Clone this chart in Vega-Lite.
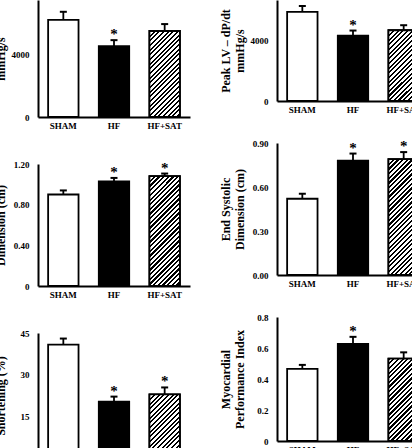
{
"$schema": "https://vega.github.io/schema/vega-lite/v6.json",
"padding": {"left": -20, "top": 0, "right": 0, "bottom": 0},
"background": "white",
"config": {
"view": {"stroke": null},
"font": "Liberation Serif",
"axis": {"labelFont": "Liberation Serif", "labelFontWeight": "bold", "labelColor": "#000", "titleFont": "Liberation Serif", "titleFontWeight": "bold", "titleColor": "#000", "domainColor": "#000", "domainWidth": 2, "ticks": false, "grid": false},
"axisX": {"labelFontSize": 9, "labelPadding": 4, "labelAngle": 0},
"axisY": {"labelFontSize": 9, "labelPadding": 9, "minExtent": 25, "maxExtent": 25, "titlePadding": 6, "titleFontSize": 12, "titleLineHeight": 13.5}
},
"datasets": {
"p1": [{"g":"SHAM","m":6170,"hi":6680,"star":false},{"g":"HF","m":4500,"hi":4880,"star":true},{"g":"HF+SAT","m":5460,"hi":5900,"star":false}],
"p2": [{"g":"SHAM","m":5840,"hi":6230,"star":false},{"g":"HF","m":4290,"hi":4620,"star":true},{"g":"HF+SAT","m":4640,"hi":4970,"star":false}],
"p3": [{"g":"SHAM","m":0.90,"hi":0.94,"star":false},{"g":"HF","m":1.03,"hi":1.063,"star":true},{"g":"HF+SAT","m":1.08,"hi":1.106,"star":true}],
"p4": [{"g":"SHAM","m":0.52,"hi":0.554,"star":false},{"g":"HF","m":0.78,"hi":0.828,"star":true},{"g":"HF+SAT","m":0.79,"hi":0.838,"star":true}],
"p5": [{"g":"SHAM","m":40.8,"hi":43.0,"star":false},{"g":"HF","m":20.3,"hi":22.1,"star":true},{"g":"HF+SAT","m":22.9,"hi":25.4,"star":true}],
"p6": [{"g":"SHAM","m":0.465,"hi":0.491,"star":false},{"g":"HF","m":0.627,"hi":0.672,"star":true},{"g":"HF+SAT","m":0.532,"hi":0.572,"star":false}]
},
"spacing": 29,
"hconcat": [
{"spacing": 47, "bounds": "flush", "vconcat": [
{"width": 152, "height": 117, "data": {"name": "p1"},
"encoding": {"x": {"field":"g","type":"nominal","title":null,"scale":{"domain":["SHAM","HF","HF+SAT"],"paddingInner":0.4,"paddingOuter":0.2}},
"y": {"field":"m","type":"quantitative","scale":{"domain":[0,7429],"nice":false},"axis":{"values":[0,4000],"format":"d","title":["Peak LV + dP/dt","mmHg/s"]}}},
"layer": [
{"mark":{"type":"bar","stroke":"#000","strokeWidth":1.8},"encoding":{"fill":{"field":"g","type":"nominal","scale":{"domain":["SHAM","HF","HF+SAT"],"range":["#ffffff","#000000","#ffffff"]},"legend":null}}},
{"transform":[{"filter":"datum.g === 'HF+SAT'"}],"mark":{"type":"bar","stroke":"#000","strokeWidth":1.8,"fill":{"gradient":"linear","x1":0,"y1":0,"x2":0.5456,"y2":1.5433,"stops":[{"offset":0,"color":"#000"},{"offset":0.0141,"color":"#000"},{"offset":0.0141,"color":"#fff"},{"offset":0.0313,"color":"#fff"},{"offset":0.0313,"color":"#000"},{"offset":0.0453,"color":"#000"},{"offset":0.0453,"color":"#fff"},{"offset":0.0625,"color":"#fff"},{"offset":0.0625,"color":"#000"},{"offset":0.0766,"color":"#000"},{"offset":0.0766,"color":"#fff"},{"offset":0.0938,"color":"#fff"},{"offset":0.0938,"color":"#000"},{"offset":0.1078,"color":"#000"},{"offset":0.1078,"color":"#fff"},{"offset":0.125,"color":"#fff"},{"offset":0.125,"color":"#000"},{"offset":0.1391,"color":"#000"},{"offset":0.1391,"color":"#fff"},{"offset":0.1563,"color":"#fff"},{"offset":0.1563,"color":"#000"},{"offset":0.1703,"color":"#000"},{"offset":0.1703,"color":"#fff"},{"offset":0.1875,"color":"#fff"},{"offset":0.1875,"color":"#000"},{"offset":0.2016,"color":"#000"},{"offset":0.2016,"color":"#fff"},{"offset":0.2188,"color":"#fff"},{"offset":0.2188,"color":"#000"},{"offset":0.2328,"color":"#000"},{"offset":0.2328,"color":"#fff"},{"offset":0.25,"color":"#fff"},{"offset":0.25,"color":"#000"},{"offset":0.2641,"color":"#000"},{"offset":0.2641,"color":"#fff"},{"offset":0.2813,"color":"#fff"},{"offset":0.2813,"color":"#000"},{"offset":0.2953,"color":"#000"},{"offset":0.2953,"color":"#fff"},{"offset":0.3125,"color":"#fff"},{"offset":0.3125,"color":"#000"},{"offset":0.3266,"color":"#000"},{"offset":0.3266,"color":"#fff"},{"offset":0.3438,"color":"#fff"},{"offset":0.3438,"color":"#000"},{"offset":0.3578,"color":"#000"},{"offset":0.3578,"color":"#fff"},{"offset":0.375,"color":"#fff"},{"offset":0.375,"color":"#000"},{"offset":0.3891,"color":"#000"},{"offset":0.3891,"color":"#fff"},{"offset":0.4063,"color":"#fff"},{"offset":0.4063,"color":"#000"},{"offset":0.4203,"color":"#000"},{"offset":0.4203,"color":"#fff"},{"offset":0.4375,"color":"#fff"},{"offset":0.4375,"color":"#000"},{"offset":0.4516,"color":"#000"},{"offset":0.4516,"color":"#fff"},{"offset":0.4688,"color":"#fff"},{"offset":0.4688,"color":"#000"},{"offset":0.4828,"color":"#000"},{"offset":0.4828,"color":"#fff"},{"offset":0.5,"color":"#fff"},{"offset":0.5,"color":"#000"},{"offset":0.5141,"color":"#000"},{"offset":0.5141,"color":"#fff"},{"offset":0.5313,"color":"#fff"},{"offset":0.5313,"color":"#000"},{"offset":0.5453,"color":"#000"},{"offset":0.5453,"color":"#fff"},{"offset":0.5625,"color":"#fff"},{"offset":0.5625,"color":"#000"},{"offset":0.5766,"color":"#000"},{"offset":0.5766,"color":"#fff"},{"offset":0.5938,"color":"#fff"},{"offset":0.5938,"color":"#000"},{"offset":0.6078,"color":"#000"},{"offset":0.6078,"color":"#fff"},{"offset":0.625,"color":"#fff"},{"offset":0.625,"color":"#000"},{"offset":0.6391,"color":"#000"},{"offset":0.6391,"color":"#fff"},{"offset":0.6563,"color":"#fff"},{"offset":0.6563,"color":"#000"},{"offset":0.6703,"color":"#000"},{"offset":0.6703,"color":"#fff"},{"offset":0.6875,"color":"#fff"},{"offset":0.6875,"color":"#000"},{"offset":0.7016,"color":"#000"},{"offset":0.7016,"color":"#fff"},{"offset":0.7188,"color":"#fff"},{"offset":0.7188,"color":"#000"},{"offset":0.7328,"color":"#000"},{"offset":0.7328,"color":"#fff"},{"offset":0.75,"color":"#fff"},{"offset":0.75,"color":"#000"},{"offset":0.7641,"color":"#000"},{"offset":0.7641,"color":"#fff"},{"offset":0.7813,"color":"#fff"},{"offset":0.7813,"color":"#000"},{"offset":0.7953,"color":"#000"},{"offset":0.7953,"color":"#fff"},{"offset":0.8125,"color":"#fff"},{"offset":0.8125,"color":"#000"},{"offset":0.8266,"color":"#000"},{"offset":0.8266,"color":"#fff"},{"offset":0.8438,"color":"#fff"},{"offset":0.8438,"color":"#000"},{"offset":0.8578,"color":"#000"},{"offset":0.8578,"color":"#fff"},{"offset":0.875,"color":"#fff"},{"offset":0.875,"color":"#000"},{"offset":0.8891,"color":"#000"},{"offset":0.8891,"color":"#fff"},{"offset":0.9063,"color":"#fff"},{"offset":0.9063,"color":"#000"},{"offset":0.9203,"color":"#000"},{"offset":0.9203,"color":"#fff"},{"offset":0.9375,"color":"#fff"},{"offset":0.9375,"color":"#000"},{"offset":0.9516,"color":"#000"},{"offset":0.9516,"color":"#fff"},{"offset":0.9688,"color":"#fff"},{"offset":0.9688,"color":"#000"},{"offset":0.9828,"color":"#000"},{"offset":0.9828,"color":"#fff"},{"offset":1,"color":"#fff"}]}}},
{"mark":{"type":"rule","strokeWidth":1.8,"color":"#000"},"encoding":{"y2":{"field":"hi"}}},
{"mark":{"type":"tick","size":7,"thickness":2,"color":"#000","opacity":1},"encoding":{"y":{"field":"hi","type":"quantitative"}}},
{"transform":[{"filter":"datum.star"}],"mark":{"type":"text","text":"*","fontSize":15,"fontWeight":"bold","font":"Liberation Serif","baseline":"alphabetic","dy":-1,"fill":"#000"},"encoding":{"y":{"field":"hi","type":"quantitative"}}}
]},
{"width": 152, "height": 122, "data": {"name": "p3"},
"encoding": {"x": {"field":"g","type":"nominal","title":null,"scale":{"domain":["SHAM","HF","HF+SAT"],"paddingInner":0.4,"paddingOuter":0.2}},
"y": {"field":"m","type":"quantitative","scale":{"domain":[0,1.2],"nice":false},"axis":{"values":[0,0.4,0.8,1.2],"labelExpr":"datum.value === 0 ? '0' : format(datum.value, '.2f')","title":["End Diastolic","Dimension (cm)"]}}},
"layer": [
{"mark":{"type":"bar","stroke":"#000","strokeWidth":1.8},"encoding":{"fill":{"field":"g","type":"nominal","scale":{"domain":["SHAM","HF","HF+SAT"],"range":["#ffffff","#000000","#ffffff"]},"legend":null}}},
{"transform":[{"filter":"datum.g === 'HF+SAT'"}],"mark":{"type":"bar","stroke":"#000","strokeWidth":1.8,"fill":{"gradient":"linear","x1":0,"y1":0,"x2":0.3497,"y2":1.2629,"stops":[{"offset":0,"color":"#000"},{"offset":0.0141,"color":"#000"},{"offset":0.0141,"color":"#fff"},{"offset":0.0313,"color":"#fff"},{"offset":0.0313,"color":"#000"},{"offset":0.0453,"color":"#000"},{"offset":0.0453,"color":"#fff"},{"offset":0.0625,"color":"#fff"},{"offset":0.0625,"color":"#000"},{"offset":0.0766,"color":"#000"},{"offset":0.0766,"color":"#fff"},{"offset":0.0938,"color":"#fff"},{"offset":0.0938,"color":"#000"},{"offset":0.1078,"color":"#000"},{"offset":0.1078,"color":"#fff"},{"offset":0.125,"color":"#fff"},{"offset":0.125,"color":"#000"},{"offset":0.1391,"color":"#000"},{"offset":0.1391,"color":"#fff"},{"offset":0.1563,"color":"#fff"},{"offset":0.1563,"color":"#000"},{"offset":0.1703,"color":"#000"},{"offset":0.1703,"color":"#fff"},{"offset":0.1875,"color":"#fff"},{"offset":0.1875,"color":"#000"},{"offset":0.2016,"color":"#000"},{"offset":0.2016,"color":"#fff"},{"offset":0.2188,"color":"#fff"},{"offset":0.2188,"color":"#000"},{"offset":0.2328,"color":"#000"},{"offset":0.2328,"color":"#fff"},{"offset":0.25,"color":"#fff"},{"offset":0.25,"color":"#000"},{"offset":0.2641,"color":"#000"},{"offset":0.2641,"color":"#fff"},{"offset":0.2813,"color":"#fff"},{"offset":0.2813,"color":"#000"},{"offset":0.2953,"color":"#000"},{"offset":0.2953,"color":"#fff"},{"offset":0.3125,"color":"#fff"},{"offset":0.3125,"color":"#000"},{"offset":0.3266,"color":"#000"},{"offset":0.3266,"color":"#fff"},{"offset":0.3438,"color":"#fff"},{"offset":0.3438,"color":"#000"},{"offset":0.3578,"color":"#000"},{"offset":0.3578,"color":"#fff"},{"offset":0.375,"color":"#fff"},{"offset":0.375,"color":"#000"},{"offset":0.3891,"color":"#000"},{"offset":0.3891,"color":"#fff"},{"offset":0.4063,"color":"#fff"},{"offset":0.4063,"color":"#000"},{"offset":0.4203,"color":"#000"},{"offset":0.4203,"color":"#fff"},{"offset":0.4375,"color":"#fff"},{"offset":0.4375,"color":"#000"},{"offset":0.4516,"color":"#000"},{"offset":0.4516,"color":"#fff"},{"offset":0.4688,"color":"#fff"},{"offset":0.4688,"color":"#000"},{"offset":0.4828,"color":"#000"},{"offset":0.4828,"color":"#fff"},{"offset":0.5,"color":"#fff"},{"offset":0.5,"color":"#000"},{"offset":0.5141,"color":"#000"},{"offset":0.5141,"color":"#fff"},{"offset":0.5313,"color":"#fff"},{"offset":0.5313,"color":"#000"},{"offset":0.5453,"color":"#000"},{"offset":0.5453,"color":"#fff"},{"offset":0.5625,"color":"#fff"},{"offset":0.5625,"color":"#000"},{"offset":0.5766,"color":"#000"},{"offset":0.5766,"color":"#fff"},{"offset":0.5938,"color":"#fff"},{"offset":0.5938,"color":"#000"},{"offset":0.6078,"color":"#000"},{"offset":0.6078,"color":"#fff"},{"offset":0.625,"color":"#fff"},{"offset":0.625,"color":"#000"},{"offset":0.6391,"color":"#000"},{"offset":0.6391,"color":"#fff"},{"offset":0.6563,"color":"#fff"},{"offset":0.6563,"color":"#000"},{"offset":0.6703,"color":"#000"},{"offset":0.6703,"color":"#fff"},{"offset":0.6875,"color":"#fff"},{"offset":0.6875,"color":"#000"},{"offset":0.7016,"color":"#000"},{"offset":0.7016,"color":"#fff"},{"offset":0.7188,"color":"#fff"},{"offset":0.7188,"color":"#000"},{"offset":0.7328,"color":"#000"},{"offset":0.7328,"color":"#fff"},{"offset":0.75,"color":"#fff"},{"offset":0.75,"color":"#000"},{"offset":0.7641,"color":"#000"},{"offset":0.7641,"color":"#fff"},{"offset":0.7813,"color":"#fff"},{"offset":0.7813,"color":"#000"},{"offset":0.7953,"color":"#000"},{"offset":0.7953,"color":"#fff"},{"offset":0.8125,"color":"#fff"},{"offset":0.8125,"color":"#000"},{"offset":0.8266,"color":"#000"},{"offset":0.8266,"color":"#fff"},{"offset":0.8438,"color":"#fff"},{"offset":0.8438,"color":"#000"},{"offset":0.8578,"color":"#000"},{"offset":0.8578,"color":"#fff"},{"offset":0.875,"color":"#fff"},{"offset":0.875,"color":"#000"},{"offset":0.8891,"color":"#000"},{"offset":0.8891,"color":"#fff"},{"offset":0.9063,"color":"#fff"},{"offset":0.9063,"color":"#000"},{"offset":0.9203,"color":"#000"},{"offset":0.9203,"color":"#fff"},{"offset":0.9375,"color":"#fff"},{"offset":0.9375,"color":"#000"},{"offset":0.9516,"color":"#000"},{"offset":0.9516,"color":"#fff"},{"offset":0.9688,"color":"#fff"},{"offset":0.9688,"color":"#000"},{"offset":0.9828,"color":"#000"},{"offset":0.9828,"color":"#fff"},{"offset":1,"color":"#fff"}]}}},
{"mark":{"type":"rule","strokeWidth":1.8,"color":"#000"},"encoding":{"y2":{"field":"hi"}}},
{"mark":{"type":"tick","size":7,"thickness":2,"color":"#000","opacity":1},"encoding":{"y":{"field":"hi","type":"quantitative"}}},
{"transform":[{"filter":"datum.star"}],"mark":{"type":"text","text":"*","fontSize":15,"fontWeight":"bold","font":"Liberation Serif","baseline":"alphabetic","dy":-1,"fill":"#000"},"encoding":{"y":{"field":"hi","type":"quantitative"}}}
]},
{"width": 152, "height": 125, "data": {"name": "p5"},
"encoding": {"x": {"field":"g","type":"nominal","title":null,"scale":{"domain":["SHAM","HF","HF+SAT"],"paddingInner":0.4,"paddingOuter":0.2}},
"y": {"field":"m","type":"quantitative","scale":{"domain":[0,45],"nice":false},"axis":{"values":[0,15,30,45],"title":["Fractional","Shortening (%)"]}}},
"layer": [
{"mark":{"type":"bar","stroke":"#000","strokeWidth":1.8},"encoding":{"fill":{"field":"g","type":"nominal","scale":{"domain":["SHAM","HF","HF+SAT"],"range":["#ffffff","#000000","#ffffff"]},"legend":null}}},
{"transform":[{"filter":"datum.g === 'HF+SAT'"}],"mark":{"type":"bar","stroke":"#000","strokeWidth":1.8,"fill":{"gradient":"linear","x1":0,"y1":0,"x2":0.9134,"y2":1.9109,"stops":[{"offset":0,"color":"#000"},{"offset":0.0141,"color":"#000"},{"offset":0.0141,"color":"#fff"},{"offset":0.0313,"color":"#fff"},{"offset":0.0313,"color":"#000"},{"offset":0.0453,"color":"#000"},{"offset":0.0453,"color":"#fff"},{"offset":0.0625,"color":"#fff"},{"offset":0.0625,"color":"#000"},{"offset":0.0766,"color":"#000"},{"offset":0.0766,"color":"#fff"},{"offset":0.0938,"color":"#fff"},{"offset":0.0938,"color":"#000"},{"offset":0.1078,"color":"#000"},{"offset":0.1078,"color":"#fff"},{"offset":0.125,"color":"#fff"},{"offset":0.125,"color":"#000"},{"offset":0.1391,"color":"#000"},{"offset":0.1391,"color":"#fff"},{"offset":0.1563,"color":"#fff"},{"offset":0.1563,"color":"#000"},{"offset":0.1703,"color":"#000"},{"offset":0.1703,"color":"#fff"},{"offset":0.1875,"color":"#fff"},{"offset":0.1875,"color":"#000"},{"offset":0.2016,"color":"#000"},{"offset":0.2016,"color":"#fff"},{"offset":0.2188,"color":"#fff"},{"offset":0.2188,"color":"#000"},{"offset":0.2328,"color":"#000"},{"offset":0.2328,"color":"#fff"},{"offset":0.25,"color":"#fff"},{"offset":0.25,"color":"#000"},{"offset":0.2641,"color":"#000"},{"offset":0.2641,"color":"#fff"},{"offset":0.2813,"color":"#fff"},{"offset":0.2813,"color":"#000"},{"offset":0.2953,"color":"#000"},{"offset":0.2953,"color":"#fff"},{"offset":0.3125,"color":"#fff"},{"offset":0.3125,"color":"#000"},{"offset":0.3266,"color":"#000"},{"offset":0.3266,"color":"#fff"},{"offset":0.3438,"color":"#fff"},{"offset":0.3438,"color":"#000"},{"offset":0.3578,"color":"#000"},{"offset":0.3578,"color":"#fff"},{"offset":0.375,"color":"#fff"},{"offset":0.375,"color":"#000"},{"offset":0.3891,"color":"#000"},{"offset":0.3891,"color":"#fff"},{"offset":0.4063,"color":"#fff"},{"offset":0.4063,"color":"#000"},{"offset":0.4203,"color":"#000"},{"offset":0.4203,"color":"#fff"},{"offset":0.4375,"color":"#fff"},{"offset":0.4375,"color":"#000"},{"offset":0.4516,"color":"#000"},{"offset":0.4516,"color":"#fff"},{"offset":0.4688,"color":"#fff"},{"offset":0.4688,"color":"#000"},{"offset":0.4828,"color":"#000"},{"offset":0.4828,"color":"#fff"},{"offset":0.5,"color":"#fff"},{"offset":0.5,"color":"#000"},{"offset":0.5141,"color":"#000"},{"offset":0.5141,"color":"#fff"},{"offset":0.5313,"color":"#fff"},{"offset":0.5313,"color":"#000"},{"offset":0.5453,"color":"#000"},{"offset":0.5453,"color":"#fff"},{"offset":0.5625,"color":"#fff"},{"offset":0.5625,"color":"#000"},{"offset":0.5766,"color":"#000"},{"offset":0.5766,"color":"#fff"},{"offset":0.5938,"color":"#fff"},{"offset":0.5938,"color":"#000"},{"offset":0.6078,"color":"#000"},{"offset":0.6078,"color":"#fff"},{"offset":0.625,"color":"#fff"},{"offset":0.625,"color":"#000"},{"offset":0.6391,"color":"#000"},{"offset":0.6391,"color":"#fff"},{"offset":0.6563,"color":"#fff"},{"offset":0.6563,"color":"#000"},{"offset":0.6703,"color":"#000"},{"offset":0.6703,"color":"#fff"},{"offset":0.6875,"color":"#fff"},{"offset":0.6875,"color":"#000"},{"offset":0.7016,"color":"#000"},{"offset":0.7016,"color":"#fff"},{"offset":0.7188,"color":"#fff"},{"offset":0.7188,"color":"#000"},{"offset":0.7328,"color":"#000"},{"offset":0.7328,"color":"#fff"},{"offset":0.75,"color":"#fff"},{"offset":0.75,"color":"#000"},{"offset":0.7641,"color":"#000"},{"offset":0.7641,"color":"#fff"},{"offset":0.7813,"color":"#fff"},{"offset":0.7813,"color":"#000"},{"offset":0.7953,"color":"#000"},{"offset":0.7953,"color":"#fff"},{"offset":0.8125,"color":"#fff"},{"offset":0.8125,"color":"#000"},{"offset":0.8266,"color":"#000"},{"offset":0.8266,"color":"#fff"},{"offset":0.8438,"color":"#fff"},{"offset":0.8438,"color":"#000"},{"offset":0.8578,"color":"#000"},{"offset":0.8578,"color":"#fff"},{"offset":0.875,"color":"#fff"},{"offset":0.875,"color":"#000"},{"offset":0.8891,"color":"#000"},{"offset":0.8891,"color":"#fff"},{"offset":0.9063,"color":"#fff"},{"offset":0.9063,"color":"#000"},{"offset":0.9203,"color":"#000"},{"offset":0.9203,"color":"#fff"},{"offset":0.9375,"color":"#fff"},{"offset":0.9375,"color":"#000"},{"offset":0.9516,"color":"#000"},{"offset":0.9516,"color":"#fff"},{"offset":0.9688,"color":"#fff"},{"offset":0.9688,"color":"#000"},{"offset":0.9828,"color":"#000"},{"offset":0.9828,"color":"#fff"},{"offset":1,"color":"#fff"}]}}},
{"mark":{"type":"rule","strokeWidth":1.8,"color":"#000"},"encoding":{"y2":{"field":"hi"}}},
{"mark":{"type":"tick","size":7,"thickness":2,"color":"#000","opacity":1},"encoding":{"y":{"field":"hi","type":"quantitative"}}},
{"transform":[{"filter":"datum.star"}],"mark":{"type":"text","text":"*","fontSize":15,"fontWeight":"bold","font":"Liberation Serif","baseline":"alphabetic","dy":-1,"fill":"#000"},"encoding":{"y":{"field":"hi","type":"quantitative"}}}
]}
]},
{"spacing": 42, "bounds": "flush", "vconcat": [
{"width": 152, "height": 101, "data": {"name": "p2"},
"encoding": {"x": {"field":"g","type":"nominal","title":null,"scale":{"domain":["SHAM","HF","HF+SAT"],"paddingInner":0.4,"paddingOuter":0.2}},
"y": {"field":"m","type":"quantitative","scale":{"domain":[0,6623],"nice":false},"axis":{"values":[0,4000],"format":"d","title":["Peak LV – dP/dt","mmHg/s"]}}},
"layer": [
{"mark":{"type":"bar","stroke":"#000","strokeWidth":1.8},"encoding":{"fill":{"field":"g","type":"nominal","scale":{"domain":["SHAM","HF","HF+SAT"],"range":["#ffffff","#000000","#ffffff"]},"legend":null}}},
{"transform":[{"filter":"datum.g === 'HF+SAT'"}],"mark":{"type":"bar","stroke":"#000","strokeWidth":1.8,"fill":{"gradient":"linear","x1":0,"y1":0,"x2":0.7645,"y2":1.7806,"stops":[{"offset":0,"color":"#000"},{"offset":0.0141,"color":"#000"},{"offset":0.0141,"color":"#fff"},{"offset":0.0313,"color":"#fff"},{"offset":0.0313,"color":"#000"},{"offset":0.0453,"color":"#000"},{"offset":0.0453,"color":"#fff"},{"offset":0.0625,"color":"#fff"},{"offset":0.0625,"color":"#000"},{"offset":0.0766,"color":"#000"},{"offset":0.0766,"color":"#fff"},{"offset":0.0938,"color":"#fff"},{"offset":0.0938,"color":"#000"},{"offset":0.1078,"color":"#000"},{"offset":0.1078,"color":"#fff"},{"offset":0.125,"color":"#fff"},{"offset":0.125,"color":"#000"},{"offset":0.1391,"color":"#000"},{"offset":0.1391,"color":"#fff"},{"offset":0.1563,"color":"#fff"},{"offset":0.1563,"color":"#000"},{"offset":0.1703,"color":"#000"},{"offset":0.1703,"color":"#fff"},{"offset":0.1875,"color":"#fff"},{"offset":0.1875,"color":"#000"},{"offset":0.2016,"color":"#000"},{"offset":0.2016,"color":"#fff"},{"offset":0.2188,"color":"#fff"},{"offset":0.2188,"color":"#000"},{"offset":0.2328,"color":"#000"},{"offset":0.2328,"color":"#fff"},{"offset":0.25,"color":"#fff"},{"offset":0.25,"color":"#000"},{"offset":0.2641,"color":"#000"},{"offset":0.2641,"color":"#fff"},{"offset":0.2813,"color":"#fff"},{"offset":0.2813,"color":"#000"},{"offset":0.2953,"color":"#000"},{"offset":0.2953,"color":"#fff"},{"offset":0.3125,"color":"#fff"},{"offset":0.3125,"color":"#000"},{"offset":0.3266,"color":"#000"},{"offset":0.3266,"color":"#fff"},{"offset":0.3438,"color":"#fff"},{"offset":0.3438,"color":"#000"},{"offset":0.3578,"color":"#000"},{"offset":0.3578,"color":"#fff"},{"offset":0.375,"color":"#fff"},{"offset":0.375,"color":"#000"},{"offset":0.3891,"color":"#000"},{"offset":0.3891,"color":"#fff"},{"offset":0.4063,"color":"#fff"},{"offset":0.4063,"color":"#000"},{"offset":0.4203,"color":"#000"},{"offset":0.4203,"color":"#fff"},{"offset":0.4375,"color":"#fff"},{"offset":0.4375,"color":"#000"},{"offset":0.4516,"color":"#000"},{"offset":0.4516,"color":"#fff"},{"offset":0.4688,"color":"#fff"},{"offset":0.4688,"color":"#000"},{"offset":0.4828,"color":"#000"},{"offset":0.4828,"color":"#fff"},{"offset":0.5,"color":"#fff"},{"offset":0.5,"color":"#000"},{"offset":0.5141,"color":"#000"},{"offset":0.5141,"color":"#fff"},{"offset":0.5313,"color":"#fff"},{"offset":0.5313,"color":"#000"},{"offset":0.5453,"color":"#000"},{"offset":0.5453,"color":"#fff"},{"offset":0.5625,"color":"#fff"},{"offset":0.5625,"color":"#000"},{"offset":0.5766,"color":"#000"},{"offset":0.5766,"color":"#fff"},{"offset":0.5938,"color":"#fff"},{"offset":0.5938,"color":"#000"},{"offset":0.6078,"color":"#000"},{"offset":0.6078,"color":"#fff"},{"offset":0.625,"color":"#fff"},{"offset":0.625,"color":"#000"},{"offset":0.6391,"color":"#000"},{"offset":0.6391,"color":"#fff"},{"offset":0.6563,"color":"#fff"},{"offset":0.6563,"color":"#000"},{"offset":0.6703,"color":"#000"},{"offset":0.6703,"color":"#fff"},{"offset":0.6875,"color":"#fff"},{"offset":0.6875,"color":"#000"},{"offset":0.7016,"color":"#000"},{"offset":0.7016,"color":"#fff"},{"offset":0.7188,"color":"#fff"},{"offset":0.7188,"color":"#000"},{"offset":0.7328,"color":"#000"},{"offset":0.7328,"color":"#fff"},{"offset":0.75,"color":"#fff"},{"offset":0.75,"color":"#000"},{"offset":0.7641,"color":"#000"},{"offset":0.7641,"color":"#fff"},{"offset":0.7813,"color":"#fff"},{"offset":0.7813,"color":"#000"},{"offset":0.7953,"color":"#000"},{"offset":0.7953,"color":"#fff"},{"offset":0.8125,"color":"#fff"},{"offset":0.8125,"color":"#000"},{"offset":0.8266,"color":"#000"},{"offset":0.8266,"color":"#fff"},{"offset":0.8438,"color":"#fff"},{"offset":0.8438,"color":"#000"},{"offset":0.8578,"color":"#000"},{"offset":0.8578,"color":"#fff"},{"offset":0.875,"color":"#fff"},{"offset":0.875,"color":"#000"},{"offset":0.8891,"color":"#000"},{"offset":0.8891,"color":"#fff"},{"offset":0.9063,"color":"#fff"},{"offset":0.9063,"color":"#000"},{"offset":0.9203,"color":"#000"},{"offset":0.9203,"color":"#fff"},{"offset":0.9375,"color":"#fff"},{"offset":0.9375,"color":"#000"},{"offset":0.9516,"color":"#000"},{"offset":0.9516,"color":"#fff"},{"offset":0.9688,"color":"#fff"},{"offset":0.9688,"color":"#000"},{"offset":0.9828,"color":"#000"},{"offset":0.9828,"color":"#fff"},{"offset":1,"color":"#fff"}]}}},
{"mark":{"type":"rule","strokeWidth":1.8,"color":"#000"},"encoding":{"y2":{"field":"hi"}}},
{"mark":{"type":"tick","size":7,"thickness":2,"color":"#000","opacity":1},"encoding":{"y":{"field":"hi","type":"quantitative"}}},
{"transform":[{"filter":"datum.star"}],"mark":{"type":"text","text":"*","fontSize":15,"fontWeight":"bold","font":"Liberation Serif","baseline":"alphabetic","dy":-1,"fill":"#000"},"encoding":{"y":{"field":"hi","type":"quantitative"}}}
]},
{"width": 152, "height": 132, "data": {"name": "p4"},
"encoding": {"x": {"field":"g","type":"nominal","title":null,"scale":{"domain":["SHAM","HF","HF+SAT"],"paddingInner":0.4,"paddingOuter":0.2}},
"y": {"field":"m","type":"quantitative","scale":{"domain":[0,0.9],"nice":false},"axis":{"values":[0,0.3,0.6,0.9],"format":".2f","title":["End Systolic","Dimension (cm)"]}}},
"layer": [
{"mark":{"type":"bar","stroke":"#000","strokeWidth":1.8},"encoding":{"fill":{"field":"g","type":"nominal","scale":{"domain":["SHAM","HF","HF+SAT"],"range":["#ffffff","#000000","#ffffff"]},"legend":null}}},
{"transform":[{"filter":"datum.g === 'HF+SAT'"}],"mark":{"type":"bar","stroke":"#000","strokeWidth":1.8,"fill":{"gradient":"linear","x1":0,"y1":0,"x2":0.3162,"y2":1.2053,"stops":[{"offset":0,"color":"#000"},{"offset":0.0141,"color":"#000"},{"offset":0.0141,"color":"#fff"},{"offset":0.0313,"color":"#fff"},{"offset":0.0313,"color":"#000"},{"offset":0.0453,"color":"#000"},{"offset":0.0453,"color":"#fff"},{"offset":0.0625,"color":"#fff"},{"offset":0.0625,"color":"#000"},{"offset":0.0766,"color":"#000"},{"offset":0.0766,"color":"#fff"},{"offset":0.0938,"color":"#fff"},{"offset":0.0938,"color":"#000"},{"offset":0.1078,"color":"#000"},{"offset":0.1078,"color":"#fff"},{"offset":0.125,"color":"#fff"},{"offset":0.125,"color":"#000"},{"offset":0.1391,"color":"#000"},{"offset":0.1391,"color":"#fff"},{"offset":0.1563,"color":"#fff"},{"offset":0.1563,"color":"#000"},{"offset":0.1703,"color":"#000"},{"offset":0.1703,"color":"#fff"},{"offset":0.1875,"color":"#fff"},{"offset":0.1875,"color":"#000"},{"offset":0.2016,"color":"#000"},{"offset":0.2016,"color":"#fff"},{"offset":0.2188,"color":"#fff"},{"offset":0.2188,"color":"#000"},{"offset":0.2328,"color":"#000"},{"offset":0.2328,"color":"#fff"},{"offset":0.25,"color":"#fff"},{"offset":0.25,"color":"#000"},{"offset":0.2641,"color":"#000"},{"offset":0.2641,"color":"#fff"},{"offset":0.2813,"color":"#fff"},{"offset":0.2813,"color":"#000"},{"offset":0.2953,"color":"#000"},{"offset":0.2953,"color":"#fff"},{"offset":0.3125,"color":"#fff"},{"offset":0.3125,"color":"#000"},{"offset":0.3266,"color":"#000"},{"offset":0.3266,"color":"#fff"},{"offset":0.3438,"color":"#fff"},{"offset":0.3438,"color":"#000"},{"offset":0.3578,"color":"#000"},{"offset":0.3578,"color":"#fff"},{"offset":0.375,"color":"#fff"},{"offset":0.375,"color":"#000"},{"offset":0.3891,"color":"#000"},{"offset":0.3891,"color":"#fff"},{"offset":0.4063,"color":"#fff"},{"offset":0.4063,"color":"#000"},{"offset":0.4203,"color":"#000"},{"offset":0.4203,"color":"#fff"},{"offset":0.4375,"color":"#fff"},{"offset":0.4375,"color":"#000"},{"offset":0.4516,"color":"#000"},{"offset":0.4516,"color":"#fff"},{"offset":0.4688,"color":"#fff"},{"offset":0.4688,"color":"#000"},{"offset":0.4828,"color":"#000"},{"offset":0.4828,"color":"#fff"},{"offset":0.5,"color":"#fff"},{"offset":0.5,"color":"#000"},{"offset":0.5141,"color":"#000"},{"offset":0.5141,"color":"#fff"},{"offset":0.5313,"color":"#fff"},{"offset":0.5313,"color":"#000"},{"offset":0.5453,"color":"#000"},{"offset":0.5453,"color":"#fff"},{"offset":0.5625,"color":"#fff"},{"offset":0.5625,"color":"#000"},{"offset":0.5766,"color":"#000"},{"offset":0.5766,"color":"#fff"},{"offset":0.5938,"color":"#fff"},{"offset":0.5938,"color":"#000"},{"offset":0.6078,"color":"#000"},{"offset":0.6078,"color":"#fff"},{"offset":0.625,"color":"#fff"},{"offset":0.625,"color":"#000"},{"offset":0.6391,"color":"#000"},{"offset":0.6391,"color":"#fff"},{"offset":0.6563,"color":"#fff"},{"offset":0.6563,"color":"#000"},{"offset":0.6703,"color":"#000"},{"offset":0.6703,"color":"#fff"},{"offset":0.6875,"color":"#fff"},{"offset":0.6875,"color":"#000"},{"offset":0.7016,"color":"#000"},{"offset":0.7016,"color":"#fff"},{"offset":0.7188,"color":"#fff"},{"offset":0.7188,"color":"#000"},{"offset":0.7328,"color":"#000"},{"offset":0.7328,"color":"#fff"},{"offset":0.75,"color":"#fff"},{"offset":0.75,"color":"#000"},{"offset":0.7641,"color":"#000"},{"offset":0.7641,"color":"#fff"},{"offset":0.7813,"color":"#fff"},{"offset":0.7813,"color":"#000"},{"offset":0.7953,"color":"#000"},{"offset":0.7953,"color":"#fff"},{"offset":0.8125,"color":"#fff"},{"offset":0.8125,"color":"#000"},{"offset":0.8266,"color":"#000"},{"offset":0.8266,"color":"#fff"},{"offset":0.8438,"color":"#fff"},{"offset":0.8438,"color":"#000"},{"offset":0.8578,"color":"#000"},{"offset":0.8578,"color":"#fff"},{"offset":0.875,"color":"#fff"},{"offset":0.875,"color":"#000"},{"offset":0.8891,"color":"#000"},{"offset":0.8891,"color":"#fff"},{"offset":0.9063,"color":"#fff"},{"offset":0.9063,"color":"#000"},{"offset":0.9203,"color":"#000"},{"offset":0.9203,"color":"#fff"},{"offset":0.9375,"color":"#fff"},{"offset":0.9375,"color":"#000"},{"offset":0.9516,"color":"#000"},{"offset":0.9516,"color":"#fff"},{"offset":0.9688,"color":"#fff"},{"offset":0.9688,"color":"#000"},{"offset":0.9828,"color":"#000"},{"offset":0.9828,"color":"#fff"},{"offset":1,"color":"#fff"}]}}},
{"mark":{"type":"rule","strokeWidth":1.8,"color":"#000"},"encoding":{"y2":{"field":"hi"}}},
{"mark":{"type":"tick","size":7,"thickness":2,"color":"#000","opacity":1},"encoding":{"y":{"field":"hi","type":"quantitative"}}},
{"transform":[{"filter":"datum.star"}],"mark":{"type":"text","text":"*","fontSize":15,"fontWeight":"bold","font":"Liberation Serif","baseline":"alphabetic","dy":-1,"fill":"#000"},"encoding":{"y":{"field":"hi","type":"quantitative"}}}
]},
{"width": 152, "height": 124, "data": {"name": "p6"},
"encoding": {"x": {"field":"g","type":"nominal","title":null,"scale":{"domain":["SHAM","HF","HF+SAT"],"paddingInner":0.4,"paddingOuter":0.2}},
"y": {"field":"m","type":"quantitative","scale":{"domain":[0,0.8],"nice":false},"axis":{"values":[0,0.2,0.4,0.6,0.8],"labelExpr":"datum.value === 0 ? '0' : format(datum.value, '.1f')","title":["Myocardial","Performance Index"]}}},
"layer": [
{"mark":{"type":"bar","stroke":"#000","strokeWidth":1.8},"encoding":{"fill":{"field":"g","type":"nominal","scale":{"domain":["SHAM","HF","HF+SAT"],"range":["#ffffff","#000000","#ffffff"]},"legend":null}}},
{"transform":[{"filter":"datum.g === 'HF+SAT'"}],"mark":{"type":"bar","stroke":"#000","strokeWidth":1.8,"fill":{"gradient":"linear","x1":0,"y1":0,"x2":0.5872,"y2":1.5934,"stops":[{"offset":0,"color":"#000"},{"offset":0.0141,"color":"#000"},{"offset":0.0141,"color":"#fff"},{"offset":0.0313,"color":"#fff"},{"offset":0.0313,"color":"#000"},{"offset":0.0453,"color":"#000"},{"offset":0.0453,"color":"#fff"},{"offset":0.0625,"color":"#fff"},{"offset":0.0625,"color":"#000"},{"offset":0.0766,"color":"#000"},{"offset":0.0766,"color":"#fff"},{"offset":0.0938,"color":"#fff"},{"offset":0.0938,"color":"#000"},{"offset":0.1078,"color":"#000"},{"offset":0.1078,"color":"#fff"},{"offset":0.125,"color":"#fff"},{"offset":0.125,"color":"#000"},{"offset":0.1391,"color":"#000"},{"offset":0.1391,"color":"#fff"},{"offset":0.1563,"color":"#fff"},{"offset":0.1563,"color":"#000"},{"offset":0.1703,"color":"#000"},{"offset":0.1703,"color":"#fff"},{"offset":0.1875,"color":"#fff"},{"offset":0.1875,"color":"#000"},{"offset":0.2016,"color":"#000"},{"offset":0.2016,"color":"#fff"},{"offset":0.2188,"color":"#fff"},{"offset":0.2188,"color":"#000"},{"offset":0.2328,"color":"#000"},{"offset":0.2328,"color":"#fff"},{"offset":0.25,"color":"#fff"},{"offset":0.25,"color":"#000"},{"offset":0.2641,"color":"#000"},{"offset":0.2641,"color":"#fff"},{"offset":0.2813,"color":"#fff"},{"offset":0.2813,"color":"#000"},{"offset":0.2953,"color":"#000"},{"offset":0.2953,"color":"#fff"},{"offset":0.3125,"color":"#fff"},{"offset":0.3125,"color":"#000"},{"offset":0.3266,"color":"#000"},{"offset":0.3266,"color":"#fff"},{"offset":0.3438,"color":"#fff"},{"offset":0.3438,"color":"#000"},{"offset":0.3578,"color":"#000"},{"offset":0.3578,"color":"#fff"},{"offset":0.375,"color":"#fff"},{"offset":0.375,"color":"#000"},{"offset":0.3891,"color":"#000"},{"offset":0.3891,"color":"#fff"},{"offset":0.4063,"color":"#fff"},{"offset":0.4063,"color":"#000"},{"offset":0.4203,"color":"#000"},{"offset":0.4203,"color":"#fff"},{"offset":0.4375,"color":"#fff"},{"offset":0.4375,"color":"#000"},{"offset":0.4516,"color":"#000"},{"offset":0.4516,"color":"#fff"},{"offset":0.4688,"color":"#fff"},{"offset":0.4688,"color":"#000"},{"offset":0.4828,"color":"#000"},{"offset":0.4828,"color":"#fff"},{"offset":0.5,"color":"#fff"},{"offset":0.5,"color":"#000"},{"offset":0.5141,"color":"#000"},{"offset":0.5141,"color":"#fff"},{"offset":0.5313,"color":"#fff"},{"offset":0.5313,"color":"#000"},{"offset":0.5453,"color":"#000"},{"offset":0.5453,"color":"#fff"},{"offset":0.5625,"color":"#fff"},{"offset":0.5625,"color":"#000"},{"offset":0.5766,"color":"#000"},{"offset":0.5766,"color":"#fff"},{"offset":0.5938,"color":"#fff"},{"offset":0.5938,"color":"#000"},{"offset":0.6078,"color":"#000"},{"offset":0.6078,"color":"#fff"},{"offset":0.625,"color":"#fff"},{"offset":0.625,"color":"#000"},{"offset":0.6391,"color":"#000"},{"offset":0.6391,"color":"#fff"},{"offset":0.6563,"color":"#fff"},{"offset":0.6563,"color":"#000"},{"offset":0.6703,"color":"#000"},{"offset":0.6703,"color":"#fff"},{"offset":0.6875,"color":"#fff"},{"offset":0.6875,"color":"#000"},{"offset":0.7016,"color":"#000"},{"offset":0.7016,"color":"#fff"},{"offset":0.7188,"color":"#fff"},{"offset":0.7188,"color":"#000"},{"offset":0.7328,"color":"#000"},{"offset":0.7328,"color":"#fff"},{"offset":0.75,"color":"#fff"},{"offset":0.75,"color":"#000"},{"offset":0.7641,"color":"#000"},{"offset":0.7641,"color":"#fff"},{"offset":0.7813,"color":"#fff"},{"offset":0.7813,"color":"#000"},{"offset":0.7953,"color":"#000"},{"offset":0.7953,"color":"#fff"},{"offset":0.8125,"color":"#fff"},{"offset":0.8125,"color":"#000"},{"offset":0.8266,"color":"#000"},{"offset":0.8266,"color":"#fff"},{"offset":0.8438,"color":"#fff"},{"offset":0.8438,"color":"#000"},{"offset":0.8578,"color":"#000"},{"offset":0.8578,"color":"#fff"},{"offset":0.875,"color":"#fff"},{"offset":0.875,"color":"#000"},{"offset":0.8891,"color":"#000"},{"offset":0.8891,"color":"#fff"},{"offset":0.9063,"color":"#fff"},{"offset":0.9063,"color":"#000"},{"offset":0.9203,"color":"#000"},{"offset":0.9203,"color":"#fff"},{"offset":0.9375,"color":"#fff"},{"offset":0.9375,"color":"#000"},{"offset":0.9516,"color":"#000"},{"offset":0.9516,"color":"#fff"},{"offset":0.9688,"color":"#fff"},{"offset":0.9688,"color":"#000"},{"offset":0.9828,"color":"#000"},{"offset":0.9828,"color":"#fff"},{"offset":1,"color":"#fff"}]}}},
{"mark":{"type":"rule","strokeWidth":1.8,"color":"#000"},"encoding":{"y2":{"field":"hi"}}},
{"mark":{"type":"tick","size":7,"thickness":2,"color":"#000","opacity":1},"encoding":{"y":{"field":"hi","type":"quantitative"}}},
{"transform":[{"filter":"datum.star"}],"mark":{"type":"text","text":"*","fontSize":15,"fontWeight":"bold","font":"Liberation Serif","baseline":"alphabetic","dy":-1,"fill":"#000"},"encoding":{"y":{"field":"hi","type":"quantitative"}}}
]}
]}
]
}
